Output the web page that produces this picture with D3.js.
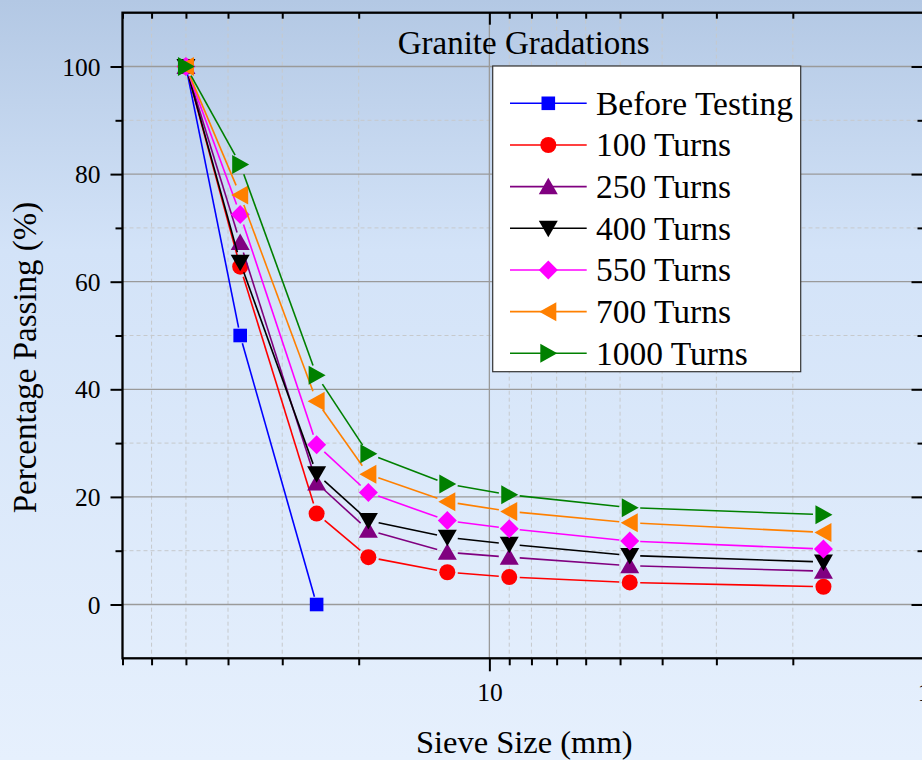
<!DOCTYPE html>
<html>
<head>
<meta charset="utf-8">
<script src="https://cdn.jsdelivr.net/npm/d3@7/dist/d3.min.js"></script>
<style>
html,body{margin:0;padding:0;overflow:hidden;}
svg{display:block;}
text{font-family:"Liberation Serif","Times New Roman",serif;fill:#000;}
</style>
</head>
<body>
<svg id="chart" width="922" height="760"></svg>
<script>
// ---- data ----
const sieveSizes = [50, 37.5, 25, 19, 12.5, 9, 4.75, 1.7];
const seriesNames = ["Before Testing", "100 Turns", "250 Turns", "400 Turns", "550 Turns", "700 Turns", "1000 Turns"];
const beforeTesting = [100, 50, 0];
const turns100  = [100, 62.8, 16.9, 8.8, 6.0, 5.1, 4.1, 3.3];
const turns250  = [100, 67.3, 22.6, 13.8, 9.7, 8.8, 7.2, 6.2];
const turns400  = [100, 63.6, 24.3, 15.6, 12.5, 11.2, 9.1, 7.9];
const turns550  = [100, 72.5, 29.7, 20.8, 15.6, 14.1, 11.8, 10.3];
const turns700  = [100, 76.1, 37.8, 24.2, 19.1, 17.3, 15.2, 13.4];
const turns1000 = [100, 81.8, 42.6, 28.0, 22.4, 20.4, 18.0, 16.7];
const seriesValues = [beforeTesting, turns100, turns250, turns400, turns550, turns700, turns1000];
const seriesColors = ["#0000ff", "#ff0000", "#800080", "#000000", "#ff00ff", "#ff8000", "#008000"];
const seriesSymbols = ["square", "circle", "up", "down", "diamond", "left", "right"];
const xMajorTicks = [10, 1];
const xMinorTicks = [70, 60, 50, 40, 30, 20, 9, 8, 7, 6, 5, 4, 3, 2];
const yMajorTicks = [0, 20, 40, 60, 80, 100];
const yMinorTicks = [10, 30, 50, 70, 90];
const chartTitle = "Granite Gradations";
const xTitle = "Sieve Size (mm)";
const yTitle = "Percentage Passing (%)";

// ---- layout ----
const W = 922, H = 760;
const L = 122.5, R = 923.5, T = 12.7, B = 658.3;
const svg = d3.select("#chart");

const defs = svg.append("defs");
const grad = defs.append("linearGradient").attr("id", "bg").attr("x1", 0).attr("y1", 0).attr("x2", 0).attr("y2", 1);
grad.append("stop").attr("offset", "0").attr("stop-color", "#b3c8e4");
grad.append("stop").attr("offset", "0.33").attr("stop-color", "#d3e3f8");
grad.append("stop").attr("offset", "1").attr("stop-color", "#e6f0fd");
svg.append("rect").attr("width", W).attr("height", H).attr("fill", "url(#bg)");

const x = d3.scaleLog().domain([70, 1]).range([L, R]);
const y = d3.scaleLinear().domain([-10, 110]).range([B, T]);

// ---- grid ----
const grid = svg.append("g");
grid.selectAll(".hmin").data(yMinorTicks).join("line")
  .attr("x1", L).attr("x2", R).attr("y1", d => y(d)).attr("y2", d => y(d))
  .attr("stroke", "#c6c9cc").attr("stroke-width", 1).attr("stroke-dasharray", "4,3");
grid.selectAll(".vmin").data(xMinorTicks.filter(d => d !== 70)).join("line")
  .attr("x1", d => x(d)).attr("x2", d => x(d)).attr("y1", T).attr("y2", B)
  .attr("stroke", "#c6c9cc").attr("stroke-width", 1).attr("stroke-dasharray", "4,3");
grid.selectAll(".hmaj").data(yMajorTicks).join("line")
  .attr("x1", L).attr("x2", R).attr("y1", d => y(d)).attr("y2", d => y(d))
  .attr("stroke", "#9a9a9a").attr("stroke-width", 1.3);
grid.selectAll(".vmaj").data([10]).join("line")
  .attr("x1", d => x(d)).attr("x2", d => x(d)).attr("y1", T).attr("y2", B)
  .attr("stroke", "#9a9a9a").attr("stroke-width", 1.3);

// ---- axes ----
const tickFont = "25.5px";
const axB = svg.append("g").attr("transform", `translate(0,${B})`)
  .call(d3.axisBottom(x).tickValues(xMajorTicks).tickFormat(d3.format("d")).tickSize(13).tickPadding(14));
const axBm = svg.append("g").attr("transform", `translate(0,${B})`)
  .call(d3.axisBottom(x).tickValues(xMinorTicks).tickFormat("").tickSize(7));
const axT = svg.append("g").attr("transform", `translate(0,${T})`)
  .call(d3.axisBottom(x).tickValues(xMajorTicks).tickFormat("").tickSize(12));
const axTm = svg.append("g").attr("transform", `translate(0,${T})`)
  .call(d3.axisBottom(x).tickValues(xMinorTicks).tickFormat("").tickSize(6));
const axL = svg.append("g").attr("transform", `translate(${L},0)`)
  .call(d3.axisLeft(y).tickValues(yMajorTicks).tickFormat(d3.format("d")).tickSize(12).tickPadding(10));
const axLm = svg.append("g").attr("transform", `translate(${L},0)`)
  .call(d3.axisLeft(y).tickValues(yMinorTicks).tickFormat("").tickSize(7));
const axR = svg.append("g").attr("transform", `translate(${R},0)`)
  .call(d3.axisLeft(y).tickValues(yMajorTicks).tickFormat("").tickSize(12));
const axRm = svg.append("g").attr("transform", `translate(${R},0)`)
  .call(d3.axisLeft(y).tickValues(yMinorTicks).tickFormat("").tickSize(6));
[axB, axBm, axT, axTm, axL, axLm, axR, axRm].forEach(g => {
  g.select(".domain").remove();
  g.selectAll(".tick line").attr("stroke", "#000").attr("stroke-width", 2);
  g.selectAll(".tick text").attr("font-family", "Liberation Serif, Times New Roman, serif")
    .attr("font-size", tickFont).attr("fill", "#000");
});
axB.selectAll(".tick text").attr("dy", "0.6em");
axL.selectAll(".tick text").attr("dy", "0.34em");

// frame
svg.append("rect").attr("x", L).attr("y", T).attr("width", R - L).attr("height", B - T)
  .attr("fill", "none").attr("stroke", "#000").attr("stroke-width", 2.3);

// ---- symbols ----
function symbolPath(kind) {
  switch (kind) {
    case "square": return "M-6.8,-6.8H6.8V6.8H-6.8Z";
    case "circle": return d3.arc()({innerRadius: 0, outerRadius: 8, startAngle: 0, endAngle: 2 * Math.PI});
    case "up": return "M0,-9L9.5,7.5L-9.5,7.5Z";
    case "down": return "M0,9L9.5,-7.5L-9.5,-7.5Z";
    case "left": return "M-9,0L8,-9.5L8,9.5Z";
    case "right": return "M9,0L-8,-9.5L-8,9.5Z";
    case "diamond": return "M0,-9.5L9.5,0L0,9.5L-9.5,0Z";
  }
}
const gapFor = kind => kind === "square" ? 8 : 10.5;

// ---- series ----
const plot = svg.append("g");
const lineGen = d3.line();
seriesValues.forEach((vals, si) => {
  const pts = vals.map((v, i) => [x(sieveSizes[i]), y(v)]);
  const g = plot.append("g");
  const gap = gapFor(seriesSymbols[si]);
  const segs = [];
  for (let i = 0; i < pts.length - 1; i++) {
    const [x0, y0] = pts[i], [x1, y1] = pts[i + 1];
    const len = Math.hypot(x1 - x0, y1 - y0);
    if (len <= 2 * gap) continue;
    const ux = (x1 - x0) / len, uy = (y1 - y0) / len;
    segs.push([[x0 + ux * gap, y0 + uy * gap], [x1 - ux * gap, y1 - uy * gap]]);
  }
  g.selectAll("path.seg").data(segs).join("path").attr("class", "seg")
    .attr("d", d => lineGen(d)).attr("fill", "none")
    .attr("stroke", seriesColors[si]).attr("stroke-width", 1.6);
  g.selectAll("path.sym").data(pts).join("path").attr("class", "sym")
    .attr("transform", d => `translate(${d[0]},${d[1]})`)
    .attr("d", symbolPath(seriesSymbols[si])).attr("fill", seriesColors[si]);
});

// ---- title ----
svg.append("text").attr("x", 523.7).attr("y", 54).attr("text-anchor", "middle")
  .attr("font-size", "33px").text(chartTitle);

// ---- legend ----
const lg = svg.append("g");
lg.append("rect").attr("x", 492.7).attr("y", 66).attr("width", 308).attr("height", 305.7)
  .attr("fill", "#ffffff").attr("stroke", "#333").attr("stroke-width", 1.2);
seriesNames.forEach((name, i) => {
  const cy = 103.3 + i * 41.67;
  lg.append("line").attr("x1", 510).attr("x2", 586.7).attr("y1", cy).attr("y2", cy)
    .attr("stroke", seriesColors[i]).attr("stroke-width", 1.6);
  lg.append("path").attr("transform", `translate(548.3,${cy})`)
    .attr("d", symbolPath(seriesSymbols[i])).attr("fill", seriesColors[i]);
  lg.append("text").attr("x", 596).attr("y", cy + 11.5).attr("font-size", "33.5px").text(name);
});

// ---- axis titles ----
svg.append("text").attr("x", 524.2).attr("y", 753).attr("text-anchor", "middle")
  .attr("font-size", "32.5px").text(xTitle);
svg.append("text").attr("transform", "translate(36,357.5) rotate(-90)").attr("text-anchor", "middle")
  .attr("font-size", "33px").text(yTitle);
</script>
</body>
</html>
